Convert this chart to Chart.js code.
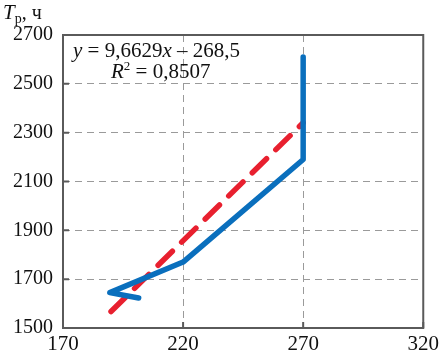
<!DOCTYPE html>
<html lang="ru">
<head>
  <meta charset="UTF-8" />
  <title>Tр</title>
  <script src="https://cdn.jsdelivr.net/npm/chart.js@4.4.0/dist/chart.umd.min.js"></script>
  <style>
    body { margin: 0; padding: 0; background: #fff; }
    #wrap { width: 443px; height: 354px; position: relative; }
  </style>
</head>
<body>
  <div id="wrap"><canvas id="chart" width="443" height="354"></canvas></div>
<script>
  // исходные данные
  const blueX = [201.5, 189.5, 220, 270, 270];
  const blueY = [1623, 1645, 1770, 2190, 2610];
  const trendX = [190, 270];
  const slope = 9.6629;
  const intercept = -268.5;
  const xTicks = [170, 220, 270, 320];
  const yTicks = [1500, 1700, 1900, 2100, 2300, 2500, 2700];

  const FONT = "'Liberation Serif', 'DejaVu Serif', serif";

  const bluePts = blueX.map((x, i) => ({ x: x, y: blueY[i] }));
  const trendPts = trendX.map(x => ({ x: x, y: slope * x + intercept }));

  // рамка, внутренние засечки и подписи
  const framePlugin = {
    id: 'frame',
    afterDatasetsDraw(chart) {
      const { ctx, chartArea: a, scales } = chart;
      ctx.save();
      ctx.strokeStyle = '#5a5a5a';
      ctx.lineWidth = 2;
      ctx.setLineDash([]);
      ctx.beginPath();
      yTicks.forEach(v => {
        const y = scales.y.getPixelForValue(v);
        ctx.moveTo(a.left, y); ctx.lineTo(a.left + 6, y);
      });
      xTicks.forEach(v => {
        const x = scales.x.getPixelForValue(v);
        ctx.moveTo(x, a.bottom); ctx.lineTo(x, a.bottom - 6);
      });
      ctx.stroke();
      ctx.strokeRect(a.left, a.top, a.right - a.left, a.bottom - a.top);

      ctx.fillStyle = '#111';
      ctx.textBaseline = 'alphabetic';
      // заголовок оси Y
      ctx.font = 'italic 21px ' + FONT;
      ctx.fillText('T', 3, 19);
      let w = ctx.measureText('T').width;
      ctx.font = '14px ' + FONT;
      ctx.fillText('р', 3 + w, 23);
      let w2 = ctx.measureText('р').width;
      ctx.font = '20px ' + FONT;
      ctx.fillText(', ч', 3 + w + w2, 19);

      // уравнение
      const parts = [['y', true], [' = 9,6629', false], ['x', true], [' – 268,5', false]];
      let x = 73;
      parts.forEach(p => {
        ctx.font = (p[1] ? 'italic ' : '') + '21px ' + FONT;
        ctx.fillText(p[0], x, 57);
        x += ctx.measureText(p[0]).width;
      });
      x = 111;
      ctx.font = 'italic 21px ' + FONT;
      ctx.fillText('R', x, 78);
      x += ctx.measureText('R').width;
      ctx.font = '13px ' + FONT;
      ctx.fillText('2', x, 70);
      x += ctx.measureText('2').width;
      ctx.font = '21px ' + FONT;
      ctx.fillText(' = 0,8507', x, 78);
      ctx.restore();
    }
  };

  new Chart(document.getElementById('chart'), {
    type: 'scatter',
    data: {
      datasets: [
        {
          data: bluePts,
          showLine: true,
          borderColor: '#0a6fbd',
          borderWidth: 5.5,
          pointRadius: 0,
          borderCapStyle: 'round',
          borderJoinStyle: 'round',
          tension: 0
        },
        {
          data: trendPts,
          showLine: true,
          borderColor: '#e8202f',
          borderWidth: 5.5,
          borderDash: [20, 13],
          pointRadius: 0,
          borderCapStyle: 'round'
        }
      ]
    },
    options: {
      responsive: false,
      animation: false,
      devicePixelRatio: 1,
      layout: { padding: { top: 35, right: 15, left: 0, bottom: 0 } },
      plugins: { legend: { display: false }, tooltip: { enabled: false } },
      scales: {
        x: {
          type: 'linear',
          min: 170, max: 320,
          afterBuildTicks: s => { s.ticks = xTicks.map(v => ({ value: v })); },
          afterFit: s => { s.height = 26; },
          border: { display: false, dash: [7, 5] },
          grid: { color: '#9a9a9a', lineWidth: 1, drawTicks: false },
          ticks: { color: '#111', font: { family: FONT, size: 21 }, padding: 4, maxRotation: 0, autoSkip: false, callback: v => String(v) }
        },
        y: {
          min: 1500, max: 2700,
          afterBuildTicks: s => { s.ticks = yTicks.map(v => ({ value: v })); },
          afterFit: s => { s.width = 63; },
          border: { display: false, dash: [7, 5] },
          grid: { color: '#9a9a9a', lineWidth: 1, drawTicks: false },
          ticks: { color: '#111', font: { family: FONT, size: 20 }, padding: 10, autoSkip: false, callback: v => String(v) }
        }
      }
    },
    plugins: [framePlugin]
  });
</script>
</body>
</html>
